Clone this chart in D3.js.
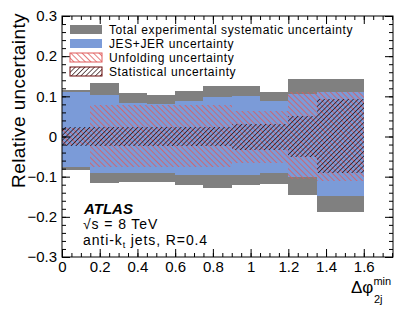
<!DOCTYPE html>
<html>
<head>
<meta charset="utf-8">
<script src="https://cdn.jsdelivr.net/npm/d3@7"></script>
<style>
body { margin: 0; background: #fff; }
text { font-family: "Liberation Sans", Arial, sans-serif; fill: #000; }
.axis path { display: none; }
.axis line { stroke: #000; stroke-width: 1; }
</style>
</head>
<body>
<svg id="chart" width="415" height="322"></svg>
<script>
// bin edges in delta phi
var binEdges = [0, 0.15, 0.3, 0.45, 0.6, 0.75, 0.9, 1.05, 1.2, 1.35, 1.6];
// total experimental systematic (up / down)
var totalUp = [0.117, 0.133, 0.109, 0.104, 0.113, 0.126, 0.125, 0.112, 0.144, 0.142];
var totalDown = [-0.083, -0.117, -0.113, -0.113, -0.121, -0.128, -0.120, -0.118, -0.146, -0.187];
// JES+JER
var jesUp = [0.112, 0.104, 0.084, 0.080, 0.088, 0.098, 0.101, 0.088, 0.106, 0.110];
var jesDown = [-0.077, -0.091, -0.091, -0.092, -0.095, -0.096, -0.095, -0.091, -0.100, -0.149];
// unfolding
var unfUp = [0.022, 0.078, 0.078, 0.078, 0.078, 0.078, 0.063, 0.063, 0.112, 0.111];
var unfDown = [-0.022, -0.075, -0.075, -0.075, -0.075, -0.075, -0.066, -0.066, -0.107, -0.110];
// statistical
var statUp = [0.023, 0.023, 0.023, 0.023, 0.023, 0.023, 0.032, 0.032, 0.051, 0.094];
var statDown = [-0.024, -0.024, -0.024, -0.024, -0.024, -0.024, -0.033, -0.033, -0.050, -0.091];

var legendText = ["Total experimental systematic uncertainty", "JES+JER uncertainty",
    "Unfolding uncertainty", "Statistical uncertainty"];

var xTicks = [0, 0.2, 0.4, 0.6, 0.8, 1, 1.2, 1.4, 1.6];
var yTicks = [-0.3, -0.2, -0.1, 0, 0.1, 0.2, 0.3];

var plotLeft = 62, plotRight = 393, plotTop = 16, plotBottom = 257;
var grayColor = "#808080";
var blueColor = "#7b9bd8";
var redColor = "#e05a5a";

var svg = d3.select("#chart");

var xScale = d3.scaleLinear().domain([0, 1.755]).range([plotLeft, plotRight]);
var yScale = d3.scaleLinear().domain([-0.3, 0.3]).range([plotBottom, plotTop]);

// hatch patterns: unfolding "\\\", statistical "///"
var defs = svg.append("defs");
var unfPat = defs.append("pattern")
    .attr("id", "unfHatch")
    .attr("patternUnits", "userSpaceOnUse")
    .attr("width", 4).attr("height", 4)
    .attr("patternTransform", "rotate(-45)");
unfPat.append("line")
    .attr("x1", 0).attr("y1", 0).attr("x2", 0).attr("y2", 4)
    .attr("stroke", redColor).attr("stroke-width", 1.6);

var statPat = defs.append("pattern")
    .attr("id", "statHatch")
    .attr("patternUnits", "userSpaceOnUse")
    .attr("width", 3.4).attr("height", 3.4)
    .attr("patternTransform", "rotate(45)");
statPat.append("line")
    .attr("x1", 0).attr("y1", 0).attr("x2", 0).attr("y2", 3.4)
    .attr("stroke", "#1a0000").attr("stroke-width", 1.3);

var bins = binEdges.slice(0, -1).map(function (lo, i) {
    return {
        lo: lo, hi: binEdges[i + 1],
        totalUp: totalUp[i], totalDown: totalDown[i],
        jesUp: jesUp[i], jesDown: jesDown[i],
        unfUp: unfUp[i], unfDown: unfDown[i],
        statUp: statUp[i], statDown: statDown[i]
    };
});

function drawBand(keyUp, keyDown, fill, cls) {
    svg.append("g").selectAll("rect." + cls)
        .data(bins)
        .enter().append("rect")
        .attr("class", cls)
        .attr("x", function (d) { return xScale(d.lo); })
        .attr("width", function (d) { return xScale(d.hi) - xScale(d.lo); })
        .attr("y", function (d) { return yScale(d[keyUp]); })
        .attr("height", function (d) { return yScale(d[keyDown]) - yScale(d[keyUp]); })
        .attr("fill", fill)
        .attr("shape-rendering", "crispEdges");
}

drawBand("totalUp", "totalDown", grayColor, "total");
drawBand("jesUp", "jesDown", blueColor, "jes");
drawBand("unfUp", "unfDown", "url(#unfHatch)", "unf");
drawBand("statUp", "statDown", "url(#statHatch)", "stat");

// axes (ticks pointing inward)
var minorX = d3.range(0, 1.751, 0.05);
var minorY = d3.range(-0.3, 0.3001, 0.02);

svg.append("g").attr("class", "axis")
    .attr("transform", "translate(0," + plotBottom + ")")
    .call(d3.axisBottom(xScale).tickValues(minorX).tickSize(-4).tickFormat(""));
svg.append("g").attr("class", "axis")
    .attr("transform", "translate(0," + plotBottom + ")")
    .call(d3.axisBottom(xScale).tickValues(xTicks).tickSize(-8).tickPadding(4)
        .tickFormat(function (d) { return d3.format("")(d); }))
    .selectAll("text").style("font-size", "15px");

svg.append("g").attr("class", "axis")
    .attr("transform", "translate(0," + plotTop + ")")
    .call(d3.axisTop(xScale).tickValues(minorX).tickSize(-4).tickFormat(""));
svg.append("g").attr("class", "axis")
    .attr("transform", "translate(0," + plotTop + ")")
    .call(d3.axisTop(xScale).tickValues(xTicks).tickSize(-8).tickFormat(""));

svg.append("g").attr("class", "axis")
    .attr("transform", "translate(" + plotLeft + ",0)")
    .call(d3.axisLeft(yScale).tickValues(minorY).tickSize(-4).tickFormat(""));
svg.append("g").attr("class", "axis")
    .attr("transform", "translate(" + plotLeft + ",0)")
    .call(d3.axisLeft(yScale).tickValues(yTicks).tickSize(-8).tickPadding(5)
        .tickFormat(function (d) { return d3.format("")(d); }))
    .selectAll("text").style("font-size", "15px");

svg.append("g").attr("class", "axis")
    .attr("transform", "translate(" + plotRight + ",0)")
    .call(d3.axisRight(yScale).tickValues(minorY).tickSize(-4).tickFormat(""));
svg.append("g").attr("class", "axis")
    .attr("transform", "translate(" + plotRight + ",0)")
    .call(d3.axisRight(yScale).tickValues(yTicks).tickSize(-8).tickFormat(""));

svg.append("rect")
    .attr("x", plotLeft).attr("y", plotTop)
    .attr("width", plotRight - plotLeft).attr("height", plotBottom - plotTop)
    .attr("fill", "none").attr("stroke", "#000").attr("stroke-width", 1);

// axis titles
svg.append("text")
    .attr("transform", "translate(25,13) rotate(-90)")
    .attr("text-anchor", "end")
    .style("font-size", "19px").style("letter-spacing", "0.4px")
    .text("Relative uncertainty");

var xTitle = svg.append("text")
    .attr("x", 351).attr("y", 293)
    .style("font-size", "17px");
xTitle.append("tspan").text("\u0394\u03c6");
xTitle.append("tspan").attr("dy", -8).style("font-size", "11px").text("min");
xTitle.append("tspan").attr("x", 374).attr("dy", 18).style("font-size", "11px").text("2j");

// legend
var legendFills = [grayColor, blueColor, "url(#unfHatch)", "url(#statHatch)"];
var legendStrokes = ["none", "none", redColor, "#6b0a0a"];
var legend = svg.append("g").selectAll("g")
    .data(legendText)
    .enter().append("g")
    .attr("transform", function (d, i) { return "translate(70," + (25 + i * 14) + ")"; });
legend.append("rect")
    .attr("width", 32).attr("height", 9)
    .attr("fill", function (d, i) { return legendFills[i]; })
    .attr("stroke", function (d, i) { return legendStrokes[i]; })
    .attr("stroke-width", 1);
legend.append("text")
    .attr("x", 39).attr("y", 9)
    .style("font-size", "12px").style("letter-spacing", "0.6px")
    .text(function (d) { return d; });

// ATLAS label
svg.append("text")
    .attr("x", 84).attr("y", 214)
    .style("font-size", "15px").style("font-weight", "bold").style("font-style", "italic")
    .text("ATLAS");
var sqrtText = svg.append("text")
    .attr("x", 83).attr("y", 229)
    .style("font-size", "14px").style("letter-spacing", "0.9px");
sqrtText.append("tspan").text("\u221As = 8 TeV");
var jetText = svg.append("text")
    .attr("x", 83).attr("y", 245)
    .style("font-size", "14px").style("letter-spacing", "0.9px");
jetText.append("tspan").text("anti-k");
jetText.append("tspan").attr("dy", 3).style("font-size", "9px").text("t");
jetText.append("tspan").attr("dy", -3).text(" jets, R=0.4");
</script>
</body>
</html>
